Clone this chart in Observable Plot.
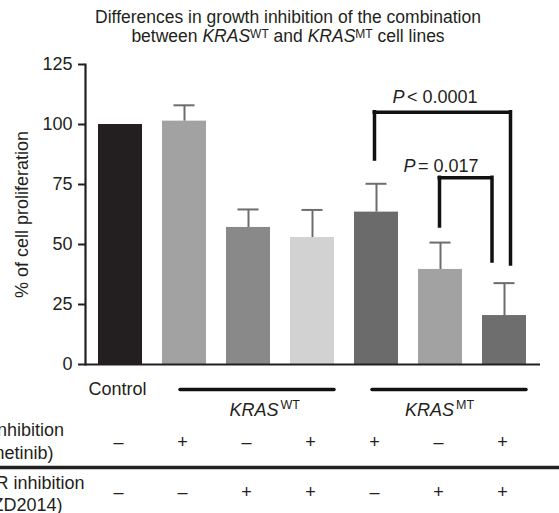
<!DOCTYPE html>
<html><head><meta charset="utf-8">
<script src="https://cdn.jsdelivr.net/npm/d3@7"></script>
<script src="https://cdn.jsdelivr.net/npm/@observablehq/plot@0.6"></script>
<style>
body{margin:0;background:#fff;font-family:"Liberation Sans",Arial,Helvetica,sans-serif;}
#title{width:559px;height:52px;box-sizing:border-box;padding-top:8px;padding-left:17px;text-align:center;font-size:17.5px;line-height:19px;color:#231f20;}
#title sup{font-size:12px;position:relative;top:-0.3em;vertical-align:baseline;line-height:0;}
#chart svg{display:block;}
</style></head><body>
<div id="title">Differences in growth inhibition of the combination<br>between <i>KRAS</i><sup>WT</sup> and <i>KRAS</i><sup>MT</sup> cell lines</div>
<div id="chart"></div>
<script>
// ---- data ----
const categories = ["Control", "WT MEK", "WT mTOR", "WT MEK+mTOR", "MT MEK", "MT mTOR", "MT MEK+mTOR"];
const proliferation = [100, 101.4, 57.1, 52.9, 63.5, 39.6, 20.4];
const errorTop = [100, 108, 64.6, 64.4, 75.3, 50.8, 33.9];
const barColors = ["#231f20", "#a2a2a2", "#898989", "#d2d2d2", "#6b6b6b", "#a2a2a2", "#6e6e6e"];
const mekSigns = ["–", "+", "–", "+", "+", "–", "+"];
const mtorSigns = ["–", "–", "+", "+", "–", "+", "+"];
const yTicks = [0, 25, 50, 75, 100, 125];
const groupFrom = ["WT MEK", "MT MEK"];
const groupTo = ["WT MEK+mTOR", "MT MEK+mTOR"];
const groupMid = ["WT mTOR", "MT mTOR"];
const groupSup = ["WT", "MT"];
const bracketFrom = ["MT MEK", "MT mTOR"];
const bracketTo = ["MT MEK+mTOR", "MT MEK+mTOR"];
const bracketTop = [105.1, 77.8];
const bracketFromEnd = [85.4, 57.5];
const bracketToEnd = [41.7, 42.9];
const bracketText = ["< 0.0001", "= 0.017"];
const rowLabelLines = ["MEK inhibition", "(selumetinib)", "mTOR inhibition", "(AZD2014)"];
const yLabel = "% of cell proliferation";

// ---- tables ----
const bars = categories.map((c, i) => ({cat: c, value: proliferation[i], err: errorTop[i], color: barColors[i], mek: mekSigns[i], mtor: mtorSigns[i]}));
const errs = bars.filter(d => d.err > d.value);
const groups = groupFrom.map((f, i) => ({from: f, to: groupTo[i], mid: groupMid[i], sup: groupSup[i]}));
const brackets = bracketFrom.map((f, i) => ({from: f, to: bracketTo[i], top: bracketTop[i], fromEnd: bracketFromEnd[i], toEnd: bracketToEnd[i], text: bracketText[i]}));

// ---- styles ----
const ink = "#231f20";
const bw = 44.5; // approx bandwidth in px
const groupStyle = [{kdx: 30, sdx: 32}, {kdx: 13.5, sdx: 15.5}];
const bracketStyle = [
  {ldx: -2, rdx: 6, pdx: 28, pdy: -15},
  {ldx: -1, rdx: -12.5, pdx: -25, pdy: -12}
];
const rowLabelStyle = [{dx: -21.5, dy: 66}, {dx: -32, dy: 89}, {dx: -1, dy: 119}, {dx: -23, dy: 141}];

const marks = [
  Plot.barY(bars, {x: "cat", y: "value", fill: "color"}),
  Plot.ruleX(errs, {x: "cat", y1: "value", y2: "err", stroke: "#6d6d6d", strokeWidth: 2}),
  Plot.tickY(errs, {x: "cat", y: "err", stroke: "#6d6d6d", strokeWidth: 2, insetLeft: 11.5, insetRight: 11.5}),
  Plot.ruleY([0], {stroke: ink, strokeWidth: 2.2}),
  Plot.frame({anchor: "left", stroke: ink, strokeWidth: 2.2}),
  Plot.axisY({ticks: yTicks, tickSize: 7, tickPadding: 6, strokeWidth: 2, stroke: ink, fill: ink, fontSize: 18, label: null}),
  Plot.text([yLabel], {text: d => d, frameAnchor: "left", rotate: -90, dx: -63, textAnchor: "middle", lineAnchor: "middle", fontSize: 18, fill: ink}),
  // bracket annotations
  ...brackets.flatMap((b, i) => {
    const s = bracketStyle[i];
    return [
      Plot.ruleX([b], {x: "from", y1: "fromEnd", y2: "top", dx: s.ldx, stroke: "#111", strokeWidth: 3.5, strokeLinecap: "square"}),
      Plot.ruleX([b], {x: "to", y1: "toEnd", y2: "top", dx: s.rdx, stroke: "#111", strokeWidth: 3.5, strokeLinecap: "square"}),
      Plot.ruleY([b], {x1: "from", x2: "to", y: "top", insetLeft: bw / 2 + s.ldx, insetRight: bw / 2 - s.rdx, stroke: "#111", strokeWidth: 3.5, strokeLinecap: "square"}),
      Plot.text([b], {x: "from", y: "top", text: () => "P", dx: s.pdx, dy: s.pdy, textAnchor: "end", lineAnchor: "middle", fontStyle: "italic", fontSize: 18, fill: ink}),
      Plot.text([b], {x: "from", y: "top", text: "text", dx: s.pdx + 2.5, dy: s.pdy, textAnchor: "start", lineAnchor: "middle", fontSize: 18, fill: ink})
    ];
  }),
  // labels below the axis
  Plot.text([bars[0]], {x: "cat", text: () => "Control", frameAnchor: "bottom", lineAnchor: "middle", dy: 25, dx: -3, fontSize: 18, fill: ink}),
  Plot.ruleY(groups, {x1: "from", x2: "to", y: () => 0, dy: 25, insetLeft: 18, insetRight: 0, stroke: "#111", strokeWidth: 3.5, strokeLinecap: "round"}),
  ...groups.flatMap((g, i) => [
    Plot.text([g], {x: "mid", text: () => "KRAS", frameAnchor: "bottom", lineAnchor: "middle", dy: 46, dx: groupStyle[i].kdx, textAnchor: "end", fontStyle: "italic", fontSize: 18, fill: ink}),
    Plot.text([g], {x: "mid", text: "sup", frameAnchor: "bottom", lineAnchor: "middle", dy: 40, dx: groupStyle[i].sdx, textAnchor: "start", fontSize: 12.5, fill: ink})
  ]),
  Plot.text(bars, {x: "cat", text: "mek", frameAnchor: "bottom", lineAnchor: "middle", dy: 78, dx: -2, fontSize: 18, fill: ink}),
  Plot.ruleY([0], {dy: 103, insetLeft: -85, insetRight: -19, stroke: "#222", strokeWidth: 3.5}),
  Plot.text(bars, {x: "cat", text: "mtor", frameAnchor: "bottom", lineAnchor: "middle", dy: 128, dx: -2, fontSize: 18, fill: ink}),
  ...rowLabelLines.map((t, i) => Plot.text([t], {text: d => d, frameAnchor: "bottom-left", dx: rowLabelStyle[i].dx, dy: rowLabelStyle[i].dy, textAnchor: "end", lineAnchor: "middle", fontSize: 18, fill: ink}))
];

const chart = Plot.plot({
  width: 559,
  height: 461,
  marginLeft: 85,
  marginRight: 19,
  marginTop: 12,
  marginBottom: 149,
  style: {fontFamily: "Liberation Sans, Arial, Helvetica, sans-serif", fontSize: "18px", color: ink, background: "#fff"},
  x: {domain: categories, paddingInner: 0.31, paddingOuter: 0.18, axis: null},
  y: {domain: [0, 125], axis: null},
  color: {type: "identity"},
  marks
});
document.getElementById("chart").appendChild(chart);
</script>
</body></html>
